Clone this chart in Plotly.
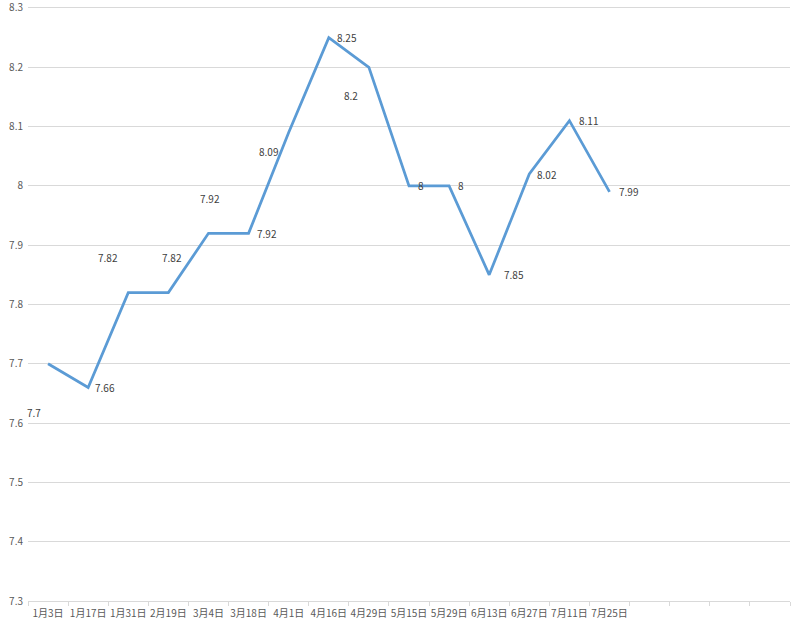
import plotly.graph_objects as go

dates = ["1月3日", "1月17日", "1月31日", "2月19日", "3月4日", "3月18日", "4月1日", "4月16日",
         "4月29日", "5月15日", "5月29日", "6月13日", "6月27日", "7月11日", "7月25日"]
values = [7.7, 7.66, 7.82, 7.82, 7.92, 7.92, 8.09, 8.25, 8.2, 8.0, 8.0, 7.85, 8.02, 8.11, 7.99]
y_ticks = [7.3, 7.4, 7.5, 7.6, 7.7, 7.8, 7.9, 8.0, 8.1, 8.2, 8.3]
y_tick_text = ["7.3", "7.4", "7.5", "7.6", "7.7", "7.8", "7.9", "8", "8.1", "8.2", "8.3"]

# label offsets (pixels) relative to each point, style only
label_dx = [-14, 17, -20, 4, 2, 18, -20, 18, -18, 12, 12, 25, 18, 19, 19]
label_dy = [-49, 0, 35, 35, 35, 0, -19, 0, -28, 0, 0, 0, 0, 0, 0]

xs = list(range(len(dates)))
n_slots = 19

font_family = "Noto Sans CJK SC, Liberation Sans, sans-serif"

fig = go.Figure()
fig.add_trace(go.Scatter(
    x=xs, y=values, mode="lines",
    line=dict(color="#5B9BD5", width=2.75),
    hoverinfo="skip", showlegend=False,
))

for x, v, dx, dy in zip(xs, values, label_dx, label_dy):
    fig.add_annotation(x=x, y=v, text=f"{v:g}", showarrow=False,
                       xshift=dx, yshift=dy,
                       font=dict(size=10, color="#404040", family=font_family))

fig.update_layout(
    width=800, height=625,
    margin=dict(l=28, r=10, t=5, b=24, autoexpand=False),
    paper_bgcolor="white", plot_bgcolor="white",
    font=dict(family=font_family, size=10, color="#595959"),
    xaxis=dict(
        range=[-0.5, n_slots - 0.5],
        tickmode="array", tickvals=xs, ticktext=dates,
        showgrid=False, zeroline=False, automargin=False,
        showline=True, linecolor="#D9D9D9", linewidth=1,
        ticks="", ticklabelstandoff=3, tickfont=dict(size=10, color="#595959"),
        ticklabeloverflow="allow",
        minor=dict(tickmode="linear", tick0=-0.5, dtick=1, ticks="outside",
                   ticklen=4, tickcolor="#D9D9D9", showgrid=False),
    ),
    yaxis=dict(
        range=[7.3, 8.305],
        tickmode="array", tickvals=y_ticks, ticktext=y_tick_text,
        showgrid=True, gridcolor="#D9D9D9", gridwidth=1,
        zeroline=False, showline=False, ticks="", automargin=False,
        ticklabelstandoff=4, ticklabeloverflow="allow",
        tickfont=dict(size=10, color="#595959"),
    ),
)

fig.write_html("out.html", config={"displayModeBar": False},
               post_script="document.body.style.margin='0';")
